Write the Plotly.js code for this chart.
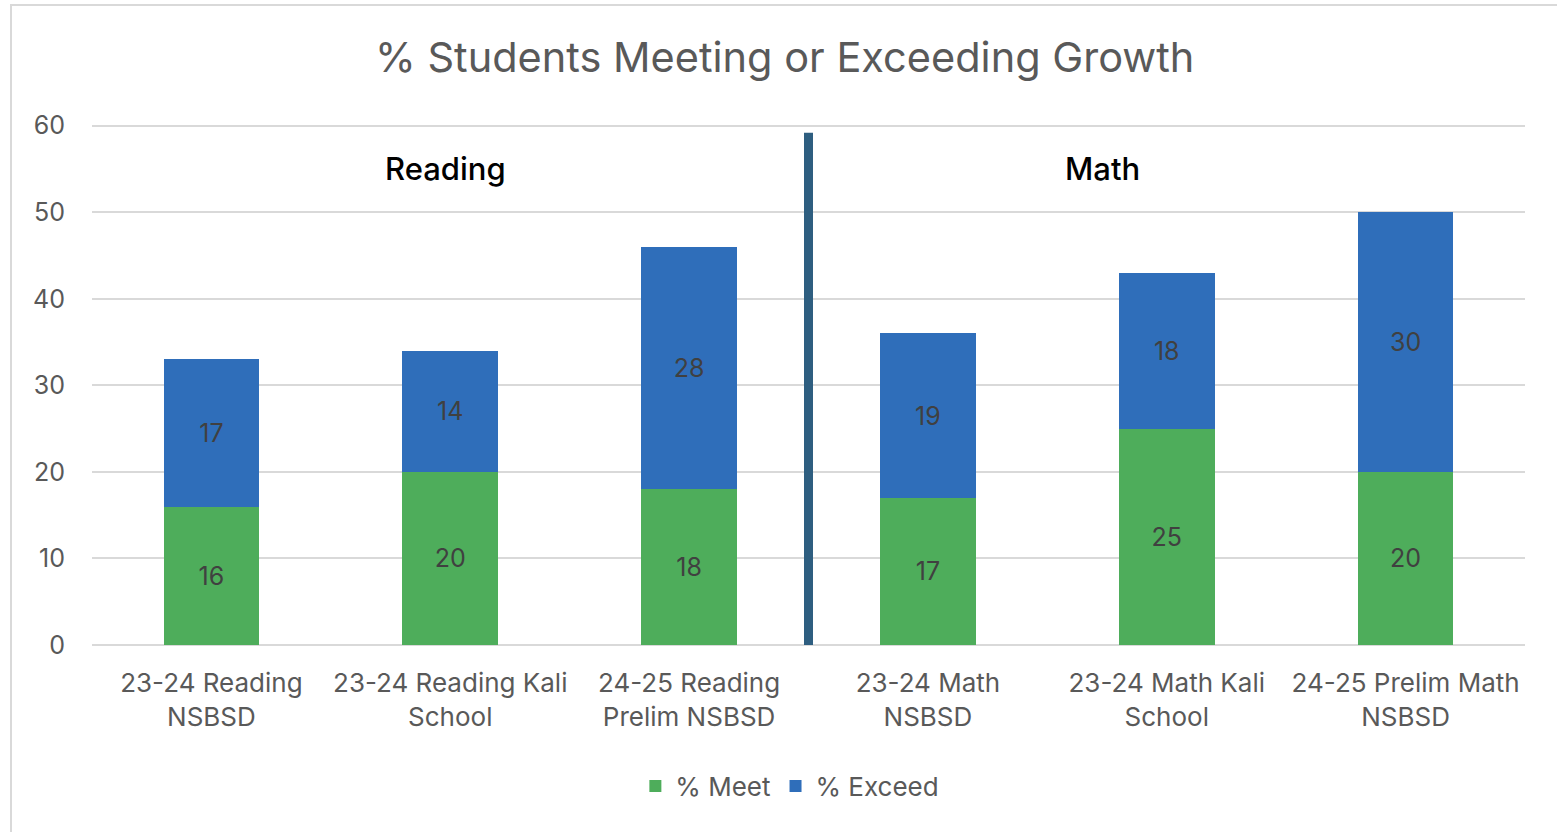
<!DOCTYPE html>
<html>
<head>
<meta charset="utf-8">
<script src="https://cdn.plot.ly/plotly-3.0.1.min.js"></script>
<style>
  html, body { margin: 0; padding: 0; background: #fff; }
  #wrap { position: relative; width: 1557px; height: 832px; overflow: hidden; }
  #chart { position: absolute; left: 0; top: 0; width: 1557px; height: 832px; }
  #frame { position: absolute; left: 10px; top: 4px; width: 1600px; height: 900px;
           border-left: 2px solid #d9d9d9; border-top: 2px solid #d9d9d9; pointer-events: none; }
</style>
</head>
<body>
<div id="wrap"><div id="chart"></div><div id="frame"></div></div>
<script>
const categories = [
  "23-24 Reading<br>NSBSD",
  "23-24 Reading Kali<br>School",
  "24-25 Reading<br>Prelim NSBSD",
  "23-24 Math<br>NSBSD",
  "23-24 Math Kali<br>School",
  "24-25 Prelim Math<br>NSBSD"
];
const meetValues = [16, 20, 18, 17, 25, 20];
const exceedValues = [17, 14, 28, 19, 18, 30];
const seriesNames = ["% Meet", "% Exceed"];
const groupLabels = ["Reading", "Math"];
const yTicks = [0, 10, 20, 30, 40, 50, 60];
const readingCount = 3;

const FONT = "Inter, 'Open Sans', 'Liberation Sans', sans-serif";

const traces = [
  {
    type: "bar", name: seriesNames[0], x: categories, y: meetValues,
    marker: { color: "#4EAD5B" },
    text: meetValues.map(String), textposition: "inside", insidetextanchor: "middle",
    textfont: { family: FONT, size: 25, color: "#404040" },
    hoverinfo: "skip"
  },
  {
    type: "bar", name: seriesNames[1], x: categories, y: exceedValues,
    marker: { color: "#2F6EBA" },
    text: exceedValues.map(String), textposition: "inside", insidetextanchor: "middle",
    textfont: { family: FONT, size: 25, color: "#404040" },
    hoverinfo: "skip"
  }
];

const layout = {
  width: 1557, height: 832,
  margin: { l: 92, r: 32, t: 124, b: 187 },
  paper_bgcolor: "rgba(0,0,0,0)", plot_bgcolor: "rgba(0,0,0,0)",
  barmode: "stack", bargap: 0.6,
  font: { family: FONT, color: "#595959", size: 25 },
  title: {
    text: "% Students Meeting or Exceeding Growth",
    font: { family: FONT, size: 41.5, color: "#595959" },
    xref: "container", x: 0.504, xanchor: "center",
    yref: "container", y: 1 - 57 / 832, yanchor: "middle"
  },
  xaxis: {
    type: "category", showgrid: false, zeroline: false, showline: false,
    ticks: "", tickfont: { family: FONT, size: 26, color: "#595959" },
    ticklabelstandoff: 20, fixedrange: true
  },
  yaxis: {
    range: [0, 60.2], tickvals: yTicks, ticktext: yTicks.map(String),
    showgrid: true, gridcolor: "#d9d9d9", gridwidth: 2,
    zeroline: true, zerolinecolor: "#d9d9d9", zerolinewidth: 2,
    showline: false, ticks: "",
    tickfont: { family: FONT, size: 25, color: "#595959" },
    ticklabelstandoff: 26, fixedrange: true
  },
  showlegend: true,
  legend: {
    orientation: "h", xref: "paper", x: 0.487, xanchor: "center",
    yref: "paper", y: (645 - 786) / 521, yanchor: "middle",
    font: { family: FONT, size: 26, color: "#595959" },
    itemwidth: 30, traceorder: "normal"
  },
  shapes: [
    {
      type: "line", xref: "x", yref: "y",
      x0: readingCount - 0.5, x1: readingCount - 0.5, y0: 0, y1: 59.2,
      line: { color: "#2E5E80", width: 9 }, layer: "above"
    }
  ],
  annotations: [
    {
      text: groupLabels[0], xref: "x", yref: "y", x: 0.98, y: 55.1,
      showarrow: false, xanchor: "center", yanchor: "middle",
      font: { family: FONT, size: 31, color: "#000000", weight: 500 }
    },
    {
      text: groupLabels[1], xref: "x", yref: "y", x: 3.73, y: 55.1,
      showarrow: false, xanchor: "center", yanchor: "middle",
      font: { family: FONT, size: 31, color: "#000000", weight: 500 }
    }
  ]
};

Plotly.newPlot("chart", traces, layout, { displayModeBar: false, staticPlot: true });
</script>
</body>
</html>
